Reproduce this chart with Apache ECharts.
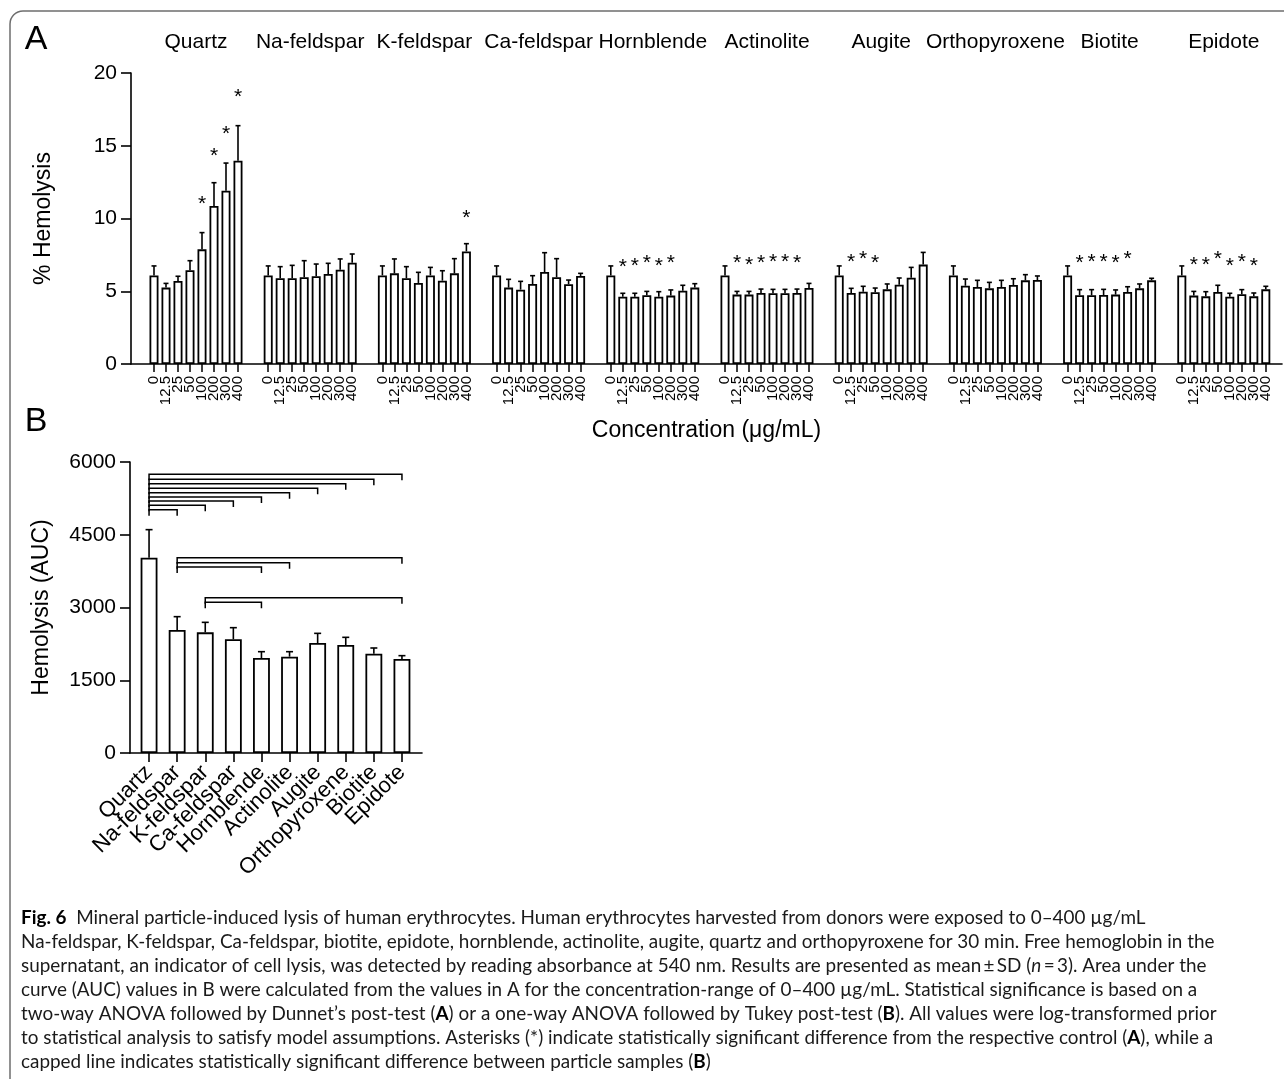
<!DOCTYPE html>
<html>
<head>
<meta charset="utf-8">
<script src="https://cdn.jsdelivr.net/npm/echarts@6/dist/echarts.min.js"></script>
<style>
  html, body { margin: 0; padding: 0; background: #fff; }
  #chart { width: 1284px; height: 1079px; }
</style>
</head>
<body>
<div id="chart"></div>
<script>
// concentrations (µg/mL) and minerals
var concLabels = ['0', '12.5', '25', '50', '100', '200', '300', '400'];
var minerals = ['Quartz', 'Na-feldspar', 'K-feldspar', 'Ca-feldspar', 'Hornblende',
                'Actinolite', 'Augite', 'Orthopyroxene', 'Biotite', 'Epidote'];

// panel A: % hemolysis, mean and SD per concentration
var quartzMean = [6.09, 5.25, 5.70, 6.44, 7.88, 10.86, 11.91, 13.97];
var quartzSd   = [0.65, 0.29, 0.33, 0.66, 1.15, 1.60, 1.90, 2.41];
var naMean     = [6.09, 5.89, 5.89, 5.96, 6.03, 6.19, 6.48, 6.96];
var naSd       = [0.65, 0.80, 0.89, 1.14, 0.84, 0.73, 0.74, 0.60];
var kMean      = [6.09, 6.23, 5.89, 5.57, 6.09, 5.73, 6.23, 7.74];
var kSd        = [0.65, 0.99, 0.80, 0.73, 0.55, 0.68, 1.01, 0.53];
var caMean     = [6.09, 5.25, 5.11, 5.50, 6.32, 5.96, 5.48, 6.05];
var caSd       = [0.65, 0.57, 0.57, 0.57, 1.33, 1.28, 0.29, 0.18];
var hornMean   = [6.09, 4.63, 4.63, 4.72, 4.63, 4.70, 5.04, 5.25];
var hornSd     = [0.65, 0.23, 0.23, 0.27, 0.34, 0.39, 0.37, 0.27];
var actMean    = [6.09, 4.77, 4.77, 4.88, 4.86, 4.86, 4.88, 5.22];
var actSd      = [0.65, 0.22, 0.22, 0.27, 0.27, 0.27, 0.27, 0.32];
var augMean    = [6.09, 4.88, 4.97, 4.93, 5.13, 5.45, 5.93, 6.83];
var augSd      = [0.65, 0.32, 0.37, 0.29, 0.37, 0.46, 0.71, 0.84];
var orthoMean  = [6.09, 5.38, 5.29, 5.20, 5.29, 5.43, 5.75, 5.77];
var orthoSd    = [0.65, 0.46, 0.46, 0.41, 0.46, 0.43, 0.39, 0.28];
var bioMean    = [6.09, 4.72, 4.72, 4.74, 4.77, 4.95, 5.20, 5.75];
var bioSd      = [0.65, 0.39, 0.39, 0.39, 0.32, 0.36, 0.30, 0.14];
var epiMean    = [6.09, 4.70, 4.65, 4.95, 4.63, 4.79, 4.65, 5.13];
var epiSd      = [0.65, 0.29, 0.32, 0.46, 0.23, 0.32, 0.23, 0.21];

// asterisk heights (null = not significant)
var quartzStar = [null, null, null, null, 11.25, 14.59, 16.04, 18.58];
var naStar     = [null, null, null, null, null, null, null, null];
var kStar      = [null, null, null, null, null, null, null, 10.31];
var caStar     = [null, null, null, null, null, null, null, null];
var hornStar   = [null, 6.94, 7.03, 7.17, 7.03, 7.17, null, null];
var actStar    = [null, 7.17, 7.08, 7.22, 7.29, 7.24, 7.22, null];
var augStar    = [null, 7.24, 7.47, 7.17, null, null, null, null];
var orthoStar  = [null, null, null, null, null, null, null, null];
var bioStar    = [null, 7.17, 7.24, 7.24, 7.17, 7.45, null, null];
var epiStar    = [null, 7.06, 7.06, 7.47, 6.99, 7.24, 7.01, null];

// panel B: AUC
var aucMean = [4027, 2536, 2488, 2344, 1959, 1986, 2268, 2227, 2048, 1938];
var aucSd   = [578, 275, 206, 240, 130, 103, 199, 158, 117, 69];

// capped lines in B (from category, to category, height)
var bracketFrom  = [0, 0, 0, 0, 0, 0, 0, 0, 0, 1, 1, 1, 2, 2];
var bracketTo    = [1, 2, 3, 4, 5, 6, 7, 8, 9, 4, 5, 9, 4, 9];
var bracketLevel = [5017, 5107, 5196, 5278, 5368, 5457, 5553, 5643, 5746, 3835, 3924, 4027, 3106, 3203];

var groupMeans = [quartzMean, naMean, kMean, caMean, hornMean, actMean, augMean, orthoMean, bioMean, epiMean];
var groupSds   = [quartzSd, naSd, kSd, caSd, hornSd, actSd, augSd, orthoSd, bioSd, epiSd];
var groupStars = [quartzStar, naStar, kStar, caStar, hornStar, actStar, augStar, orthoStar, bioStar, epiStar];

var FONT = 'Liberation Sans, Arial, sans-serif';
var CAP_FONT = 'Lato';
// layout
var A_TOP = 73, A_H = 291, A_LEFT = 131, A_END = 1282;
var G_LEFT0 = 148, G_STEP = 114.2, G_W = 96;
var B_TOP = 462, B_H = 291, B_LEFT = 130, B_END = 422, B_BAR_LEFT = 135, B_BAR_W = 281;

function errRender(capHalf) {
    return function (params, api) {
        var p0 = api.coord([api.value(0), api.value(1)]);
        var p1 = api.coord([api.value(0), api.value(2)]);
        var st = { stroke: '#000', lineWidth: 1.6 };
        return {
            type: 'group',
            children: [
                { type: 'line', shape: { x1: p0[0], y1: p0[1], x2: p1[0], y2: p1[1] }, style: st },
                { type: 'line', shape: { x1: p1[0] - capHalf, y1: p1[1], x2: p1[0] + capHalf, y2: p1[1] }, style: st }
            ]
        };
    };
}

function starRender(params, api) {
    var p = api.coord([api.value(0), api.value(1)]);
    return {
        type: 'text',
        x: p[0], y: p[1] + 4,
        style: { text: '*', font: '21px ' + FONT, fill: '#000', textAlign: 'center', textVerticalAlign: 'middle' }
    };
}

function bracketRender(params, api) {
    var lvl = api.value(2);
    var drop = 124;
    var a = api.coord([api.value(0), lvl]);
    var b = api.coord([api.value(1), lvl]);
    var a2 = api.coord([api.value(0), lvl - drop]);
    var b2 = api.coord([api.value(1), lvl - drop]);
    return {
        type: 'polyline',
        shape: { points: [[a2[0], a2[1]], a, b, [b2[0], b2[1]]] },
        style: { stroke: '#000', lineWidth: 1.5, fill: null }
    };
}

var yLabel = { fontSize: 21, color: '#000', fontFamily: FONT, margin: 14,
               formatter: function (v) { return String(v); } };

var grids = [{ left: A_LEFT, top: A_TOP, width: A_END - A_LEFT, height: A_H }];
var xAxes = [{
    gridIndex: 0, type: 'category', data: [''],
    axisLine: { lineStyle: { color: '#000', width: 1.6 } },
    axisTick: { show: false }, axisLabel: { show: false },
    name: 'Concentration (\u03bcg/mL)', nameLocation: 'middle', nameGap: 55,
    nameTextStyle: { fontSize: 23, color: '#000', fontFamily: FONT }
}];
var yAxes = [{
    gridIndex: 0, type: 'value', min: 0, max: 20, interval: 5,
    axisLine: { show: true, lineStyle: { color: '#000', width: 1.6 } },
    axisTick: { show: true, length: 10, lineStyle: { color: '#000', width: 1.6 } },
    axisLabel: yLabel,
    splitLine: { show: false },
    name: '% Hemolysis', nameLocation: 'middle', nameGap: 76,
    nameTextStyle: { fontSize: 23, color: '#000', fontFamily: FONT }
}];
var series = [];
var graphics = [];

minerals.forEach(function (name, g) {
    var gi = g + 1;
    var left = G_LEFT0 + g * G_STEP;
    grids.push({ left: left, top: A_TOP, width: G_W, height: A_H });
    xAxes.push({
        gridIndex: gi, type: 'category', data: concLabels,
        axisLine: { show: false },
        axisTick: { show: true, alignWithLabel: true, length: 8, lineStyle: { color: '#000', width: 1.5 } },
        axisLabel: { rotate: 90, interval: 0, fontSize: 15, color: '#000', fontFamily: FONT, margin: 12 }
    });
    yAxes.push({ gridIndex: gi, type: 'value', min: 0, max: 20, show: false });
    series.push({
        type: 'bar', xAxisIndex: gi, yAxisIndex: gi, barWidth: 9,
        data: groupMeans[g],
        itemStyle: { color: '#fff', borderColor: '#000', borderWidth: 1.8 },
        silent: true
    });
    series.push({
        type: 'custom', xAxisIndex: gi, yAxisIndex: gi, renderItem: errRender(2.5),
        encode: { x: 0, y: [1, 2] },
        data: groupMeans[g].map(function (m, i) { return [i, m, +(m + groupSds[g][i]).toFixed(2)]; }),
        z: 3
    });
    var stars = [];
    groupStars[g].forEach(function (s, i) { if (s !== null) stars.push([i, s]); });
    series.push({
        type: 'custom', xAxisIndex: gi, yAxisIndex: gi, renderItem: starRender,
        encode: { x: 0, y: 1 }, data: stars, z: 4
    });
    graphics.push({
        type: 'text', x: left + G_W / 2, y: 42,
        style: { text: name, font: '21px ' + FONT, fill: '#000', textAlign: 'center', textVerticalAlign: 'middle' }
    });
});

// panel B
var gB = grids.length;
grids.push({ left: B_LEFT, top: B_TOP, width: B_END - B_LEFT, height: B_H });
xAxes.push({
    gridIndex: gB, type: 'category', data: [''],
    axisLine: { lineStyle: { color: '#000', width: 1.6 } },
    axisTick: { show: false }, axisLabel: { show: false }
});
yAxes.push({
    gridIndex: gB, type: 'value', min: 0, max: 6000, interval: 1500,
    axisLine: { show: true, lineStyle: { color: '#000', width: 1.6 } },
    axisTick: { show: true, length: 10, lineStyle: { color: '#000', width: 1.6 } },
    axisLabel: yLabel,
    splitLine: { show: false },
    name: 'Hemolysis (AUC)', nameLocation: 'middle', nameGap: 77,
    nameTextStyle: { fontSize: 23, color: '#000', fontFamily: FONT }
});
var gB2 = grids.length;
grids.push({ left: B_BAR_LEFT, top: B_TOP, width: B_BAR_W, height: B_H });
xAxes.push({
    gridIndex: gB2, type: 'category', data: minerals,
    axisLine: { show: false },
    axisTick: { show: true, alignWithLabel: true, length: 9, lineStyle: { color: '#000', width: 1.6 } },
    axisLabel: { rotate: 45, interval: 0, fontSize: 22, color: '#000', fontFamily: FONT, margin: 16 }
});
yAxes.push({ gridIndex: gB2, type: 'value', min: 0, max: 6000, show: false });
series.push({
    type: 'bar', xAxisIndex: gB2, yAxisIndex: gB2, barWidth: '60%',
    data: aucMean,
    itemStyle: { color: '#fff', borderColor: '#000', borderWidth: 1.8 },
    silent: true
});
series.push({
    type: 'custom', xAxisIndex: gB2, yAxisIndex: gB2, renderItem: errRender(3.5),
    encode: { x: 0, y: [1, 2] },
    data: aucMean.map(function (m, i) { return [i, m, m + aucSd[i]]; }),
    z: 3
});
series.push({
    type: 'custom', xAxisIndex: gB2, yAxisIndex: gB2, renderItem: bracketRender,
    encode: { x: [0, 1], y: 2 },
    data: bracketFrom.map(function (f, i) { return [f, bracketTo[i], bracketLevel[i]]; }),
    z: 3
});

// panel letters, frame and caption
graphics.push(
    { type: 'rect', shape: { x: 10, y: 11, width: 1300, height: 1100, r: 13 },
      style: { fill: 'none', stroke: '#6e6e6e', lineWidth: 1.5 } },
    { type: 'text', x: 36, y: 40, style: { text: 'A', font: '34px ' + FONT, fill: '#000', textAlign: 'center', textVerticalAlign: 'middle' } },
    { type: 'text', x: 36, y: 422, style: { text: 'B', font: '34px ' + FONT, fill: '#000', textAlign: 'center', textVerticalAlign: 'middle' } }
);

var captionLines = [
    '{b|Fig. 6}  Mineral particle-induced lysis of human erythrocytes. Human erythrocytes harvested from donors were exposed to 0\u2013400 \u00b5g/mL',
    'Na-feldspar, K-feldspar, Ca-feldspar, biotite, epidote, hornblende, actinolite, augite, quartz and orthopyroxene for 30 min. Free hemoglobin in the',
    'supernatant, an indicator of cell lysis, was detected by reading absorbance at 540 nm. Results are presented as mean\u2009\u00b1\u2009SD ({i|n}\u2009=\u20093). Area under the',
    'curve (AUC) values in B were calculated from the values in A for the concentration-range of 0\u2013400 \u00b5g/mL. Statistical significance is based on a',
    'two-way ANOVA followed by Dunnet\u2019s post-test ({b|A}) or a one-way ANOVA followed by Tukey post-test ({b|B}). All values were log-transformed prior',
    'to statistical analysis to satisfy model assumptions. Asterisks (*) indicate statistically significant difference from the respective control ({b|A}), while a',
    'capped line indicates statistically significant difference between particle samples ({b|B})'
];
var CAP_SIZE = 18.9;
captionLines.forEach(function (line, i) {
    graphics.push({
        type: 'text', x: 21, y: 918 + i * 24,
        style: {
            text: line, fill: '#1a1a1a', textVerticalAlign: 'middle',
            fontFamily: CAP_FONT, fontSize: CAP_SIZE,
            rich: {
                b: { fontFamily: CAP_FONT, fontSize: CAP_SIZE, fontWeight: 'bold', fill: '#000' },
                i: { fontFamily: CAP_FONT, fontSize: CAP_SIZE, fontStyle: 'italic', fill: '#1a1a1a' }
            }
        }
    });
});

var myChart = echarts.init(document.getElementById('chart'));
myChart.setOption({
    animation: false,
    backgroundColor: '#fff',
    grid: grids,
    xAxis: xAxes,
    yAxis: yAxes,
    series: series,
    graphic: { elements: graphics }
});
</script>
</body>
</html>
